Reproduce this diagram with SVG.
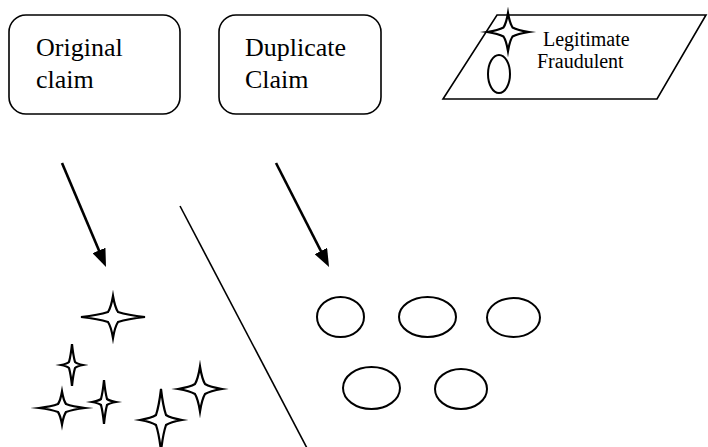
<svg xmlns="http://www.w3.org/2000/svg" width="708" height="447" viewBox="0 0 708 447">
<style>
.box{fill:#fff;stroke:#000;stroke-width:1.6}
text{font-family:'Liberation Serif','Times New Roman',Times,serif;fill:#000}
.lbl{font-size:26px}
.leg{font-size:20px}
.star{fill:#fff;stroke:#000;stroke-width:2.2;stroke-linejoin:miter;stroke-miterlimit:8}
.oval{fill:#fff;stroke:#000;stroke-width:2}
.conn{stroke:#000;stroke-width:2.6;fill:none}
.sep{stroke:#000;stroke-width:1.6;fill:none}
</style>
<defs>
<marker id="ah" viewBox="0 0 18 14" refX="8" refY="7" markerWidth="18" markerHeight="14" markerUnits="userSpaceOnUse" orient="auto">
<path d="M0,0 L18,7 L0,14 Z" fill="#000"/>
</marker>
</defs>
<rect width="708" height="447" fill="#fff"/>
<g id="original-claim">
<rect class="box" x="9" y="15" width="171" height="99" rx="17" ry="17"/>
<text class="lbl" x="36" y="56">Original</text>
<text class="lbl" x="36" y="88">claim</text>
</g>
<g id="duplicate-claim">
<rect class="box" x="219" y="15" width="162" height="99" rx="17" ry="17"/>
<text class="lbl" x="245" y="56">Duplicate</text>
<text class="lbl" x="245" y="88">Claim</text>
</g>
<g id="legend">
<polygon class="box" points="497,15 706,15 657,99 443,99"/>
<path class="star" d="M508,13 Q509.8,23.45 512.5,27.5 Q517.45,30.2 529,32 Q517.45,33.8 512.5,36.5 Q509.8,40.55 508,51 Q506.2,40.55 503.5,36.5 Q498.55,33.8 487,32 Q498.55,30.2 503.5,27.5 Q506.2,23.45 508,13 Z"/>
<ellipse class="oval" cx="499" cy="74" rx="11" ry="19"/>
<text class="leg" x="543" y="46">Legitimate</text>
<text class="leg" x="537" y="68">Fraudulent</text>
</g>
<g id="connectors">
<line class="conn" x1="62" y1="163" x2="102.1" y2="257.8" marker-end="url(#ah)"/>
<line class="conn" x1="276" y1="163" x2="324.5" y2="258.1" marker-end="url(#ah)"/>
<line class="sep" x1="180" y1="206" x2="308" y2="450"/>
</g>
<g id="legitimate-stars">
<path class="star" d="M113,296 Q115,307.55 118,312 Q127.4,315 145,317 Q127.4,319 118,322 Q115,326.45 113,338 Q111,326.45 108,322 Q98.6,319 81,317 Q98.6,315 108,312 Q111,307.55 113,296 Z"/>
<path class="star" d="M72,344 Q73.2,355.55 75,362 Q76.95,363.8 83,365 Q76.95,366.2 75,368 Q73.2,374.45 72,386 Q70.8,374.45 69,368 Q67.05,366.2 61,365 Q67.05,363.8 69,362 Q70.8,355.55 72,344 Z"/>
<path class="star" d="M62,391.5 Q63.6,400.575 66,404 Q72.35,406.4 85,408 Q72.35,409.6 66,412 Q63.6,415.425 62,424.5 Q60.4,415.425 58,412 Q51.65,409.6 39,408 Q51.65,406.4 58,404 Q60.4,400.575 62,391.5 Z"/>
<path class="star" d="M104,380 Q105.2,392.1 107,399 Q109.4,400.8 116,402 Q109.4,403.2 107,405 Q105.2,411.9 104,424 Q102.8,411.9 101,405 Q98.6,403.2 92,402 Q98.6,400.8 101,399 Q102.8,392.1 104,380 Z"/>
<path class="star" d="M161,389 Q163,406.05 166,415 Q170.45,418 182,420 Q170.45,422 166,425 Q163,433.95 161,451 Q159,433.95 156,425 Q151.55,422 140,420 Q151.55,418 156,415 Q159,406.05 161,389 Z"/>
<path class="star" d="M200,366.5 Q202,378.875 205,384 Q209.9,387 222,389 Q209.9,391 205,394 Q202,399.125 200,411.5 Q198,399.125 195,394 Q190.1,391 178,389 Q190.1,387 195,384 Q198,378.875 200,366.5 Z"/>
</g>
<g id="fraudulent-ovals">
<ellipse class="oval" cx="340.5" cy="317" rx="23.5" ry="20"/>
<ellipse class="oval" cx="427.5" cy="317" rx="28.5" ry="20"/>
<ellipse class="oval" cx="513.5" cy="317.5" rx="26.5" ry="19.5"/>
<ellipse class="oval" cx="371.5" cy="388" rx="28.5" ry="21"/>
<ellipse class="oval" cx="461" cy="389" rx="26" ry="20"/>
</g>
</svg>
